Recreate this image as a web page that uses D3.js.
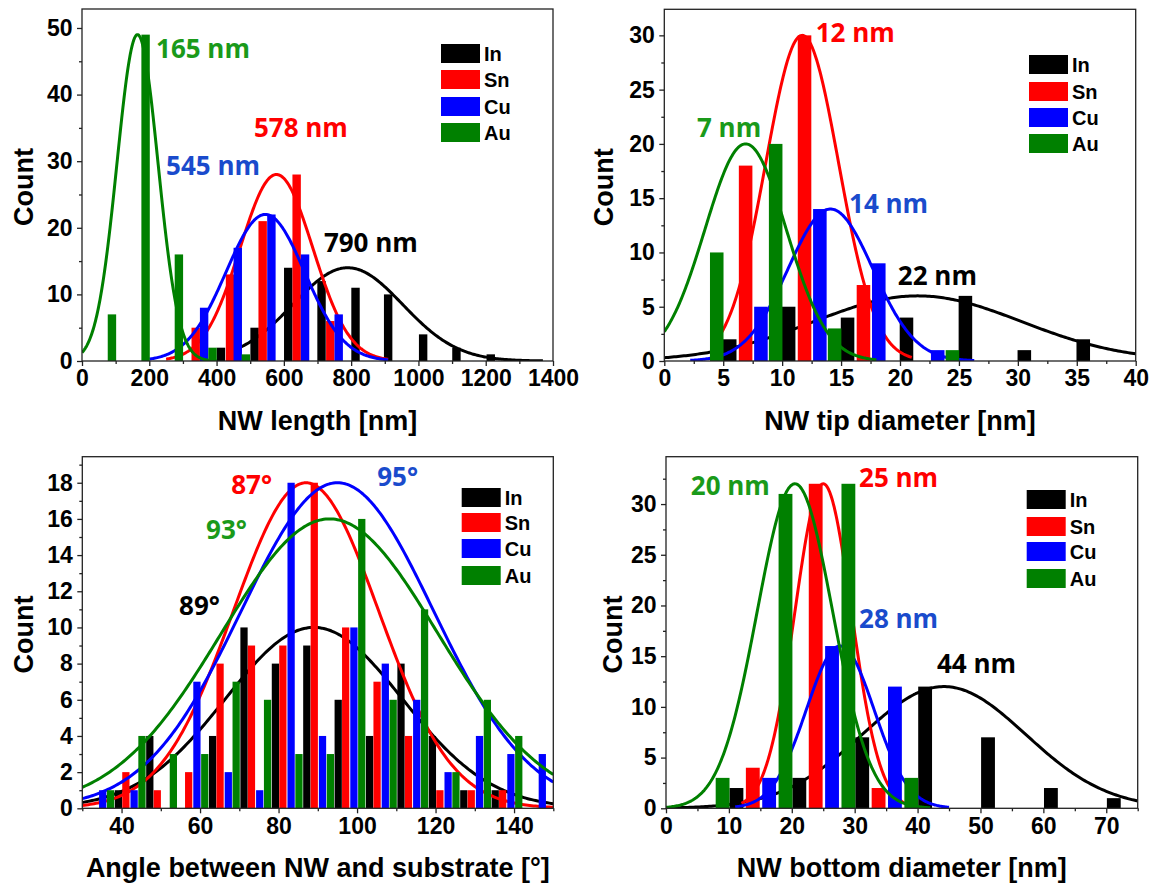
<!DOCTYPE html>
<html><head><meta charset="utf-8">
<script src="https://cdn.jsdelivr.net/npm/d3@7"></script>
<style>
body{margin:0;background:#fff;}
svg{display:block;}
text{font-family:"Liberation Sans",Arial,sans-serif;font-weight:bold;fill:#000;}
.ann{font-family:"Open Sans",Lato,sans-serif;font-weight:bold;font-size:26px;}
</style></head><body>
<svg id="c" width="1153" height="888"></svg>
<script>
// ---------- common ----------
const seriesNames = ["In","Sn","Cu","Au"];
const seriesColors = ["#000000","#ff0000","#0000ff","#008000"];
const labelColors = ["#000000","#ff0000","#1a4bcc","#1a9a1a"];

// ---------- Panel A: NW length ----------
const lenInX = [413,513,613,712,813,910,1014,1113,1215];
const lenInY = [2,5,14,12,11,10,4,2,1];
const lenSnX = [338,440,537,638,738];
const lenSnY = [5,13,21,28,6];
const lenCuX = [363,463,563,663,763];
const lenCuY = [8,17,22,16,7];
const lenAuX = [89,189,288,388,487];
const lenAuY = [7,49,16,2,1];
// gaussian fits: centre, width (sigma), peak, from, to  (order In, Sn, Cu, Au)
const lenFitCentre = [790,578,545,165];
const lenFitSigma = [163,108,117,61];
const lenFitPeak = [14,28,22,49];
const lenFitFrom = [450,250,200,0];
const lenFitTo = [1370,910,910,400];
const lenLabels = ["790 nm","578 nm","545 nm","165 nm"];
const lenLabelAt = [[722,16.4],[514,33.6],[253,27.9],[223,45.5]];
const lenXTicks = [0,200,400,600,800,1000,1200,1400];
const lenYTicks = [0,10,20,30,40,50];

// ---------- Panel B: NW tip diameter ----------
const tipInX = [5.55,10.55,15.55,20.55,25.55,30.55,35.55];
const tipInY = [2,5,4,4,6,1,2];
const tipSnX = [6.9,11.9,16.9];
const tipSnY = [18,30,7];
const tipCuX = [8.2,13.2,18.2,23.2];
const tipCuY = [5,14,9,1];
const tipAuX = [4.45,9.45,14.45,24.45];
const tipAuY = [10,20,3,1];
const tipFitCentre = [21.5,11.7,14.1,6.9];
const tipFitSigma = [8.8,3.1,3.6,3.45];
const tipFitPeak = [6,30,14,20];
const tipFitFrom = [0,4,2.2,0];
const tipFitTo = [40,21,26.3,18];
const tipLabels = ["22 nm","12 nm","14 nm","7 nm"];
const tipLabelAt = [[19.9,7.0],[12.93,29.4],[15.76,13.6],[2.86,20.6]];
const tipXTicks = [0,5,10,15,20,25,30,35,40];
const tipYTicks = [0,5,10,15,20,25,30];

// ---------- Panel C: angle ----------
const angInX = [39.2,47.2,63.2,71.2,79.2,87.2,95.2,103.2,111.2,119.2,127.2,135.2];
const angInY = [1,4,4,10,8,9,6,4,8,4,1,1];
const angSnX = [41.1,49.1,57.1,65.1,73.1,81.1,89.1,97.1,105.1,113.1,121.1,129.1,137.1];
const angSnY = [2,1,2,8,9,9,18,10,7,4,1,1,1];
const angCuX = [35.2,43.2,59.2,67.2,75.2,83.2,91.2,99.2,107.2,115.2,123.2,131.2,139.2,147.2];
const angCuY = [1,1,7,2,1,18,4,10,8,6,2,4,3,3];
const angAuX = [37.2,45.2,53.2,61.2,69.2,77.2,85.2,93.2,101.2,109.2,117.2,125.2,133.2,141.2];
const angAuY = [1,4,3,3,7,6,3,3,16,6,11,2,6,4];
const angFitCentre = [89,87,95,93];
const angFitSigma = [22.5,18.5,24.5,27.5];
const angFitPeak = [10,18,18,16];
const angFitFrom = [30,30,30,30];
const angFitTo = [150,150,150,150];
const angLabels = ["89°","87°","95°","93°"];
const angLabelAt = [[54.9,10.7],[68.2,17.4],[105.4,17.8],[61.8,14.9]];
const angXTicks = [40,60,80,100,120,140];
const angYTicks = [0,2,4,6,8,10,12,14,16,18];

// ---------- Panel D: NW bottom diameter ----------
const botInX = [11.2,21.2,31.2,41.2,51.2,61.2,71.2];
const botInY = [2,3,7,12,7,2,1];
const botSnX = [13.8,23.8,33.8];
const botSnY = [4,32,2];
const botCuX = [16.4,26.4,36.4];
const botCuY = [3,16,12];
const botAuX = [9,19,29,39];
const botAuY = [3,31,32,3];
const botFitCentre = [44.2,25,27.7,20.5];
const botFitSigma = [13,4.5,5.4,6];
const botFitPeak = [12,32,16,32];
const botFitFrom = [0,12,11,0];
const botFitTo = [75,38,45,42];
const botLabels = ["44 nm","25 nm","28 nm","20 nm"];
const botLabelAt = [[43.25,13.3],[30.85,31.7],[30.85,17.8],[4.1,30.9]];
const botXTicks = [0,10,20,30,40,50,60,70];
const botYTicks = [0,5,10,15,20,25,30];

// ---------- layout ----------
const panels = [
  {box:{l:82,r:553,t:9,b:361}, xDom:[0,1400], yDom:[0,52.85], xMinorStep:100, yMinorStep:5, barW:25,
   xs:[lenInX,lenSnX,lenCuX,lenAuX], ys:[lenInY,lenSnY,lenCuY,lenAuY],
   fc:lenFitCentre, fs:lenFitSigma, fp:lenFitPeak, ff:lenFitFrom, ft:lenFitTo,
   labels:lenLabels, labelAt:lenLabelAt, xt:lenXTicks, yt:lenYTicks,
   title:"NW length [nm]", countX:33, legX:441, legY:[44,70,97,123]},
  {box:{l:664.3,r:1135.7,t:9.3,b:361}, xDom:[0,40], yDom:[0,32.4], xMinorStep:2.5, yMinorStep:2.5, barW:1.15,
   xs:[tipInX,tipSnX,tipCuX,tipAuX], ys:[tipInY,tipSnY,tipCuY,tipAuY],
   fc:tipFitCentre, fs:tipFitSigma, fp:tipFitPeak, ff:tipFitFrom, ft:tipFitTo,
   labels:tipLabels, labelAt:tipLabelAt, xt:tipXTicks, yt:tipYTicks,
   title:"NW tip diameter [nm]", countX:613, legX:1029, legY:[55,82,108,134]},
  {box:{l:82.3,r:553.3,t:456.7,b:808.3}, xDom:[30,150], yDom:[0,19.44], xMinorStep:10, yMinorStep:1, barW:1.85,
   xs:[angInX,angSnX,angCuX,angAuX], ys:[angInY,angSnY,angCuY,angAuY],
   fc:angFitCentre, fs:angFitSigma, fp:angFitPeak, ff:angFitFrom, ft:angFitTo,
   labels:angLabels, labelAt:angLabelAt, xt:angXTicks, yt:angYTicks,
   title:"Angle between NW and substrate [°]", countX:33, legX:461.7, legY:[488,513,539,566]},
  {box:{l:666,r:1137.7,t:456.7,b:808.3}, xDom:[0,75], yDom:[0,34.67], xMinorStep:5, yMinorStep:2.5, barW:2.2,
   xs:[botInX,botSnX,botCuX,botAuX], ys:[botInY,botSnY,botCuY,botAuY],
   fc:botFitCentre, fs:botFitSigma, fp:botFitPeak, ff:botFitFrom, ft:botFitTo,
   labels:botLabels, labelAt:botLabelAt, xt:botXTicks, yt:botYTicks,
   title:"NW bottom diameter [nm]", countX:622, legX:1026.7, legY:[490,517,542,569]}
];

const svg = d3.select("#c");
svg.append("rect").attr("width",1153).attr("height",888).attr("fill","#fff");

function minorTicks(dom, step, major){
  const out = [];
  for (let v = Math.ceil(dom[0]/step)*step; v <= dom[1]+1e-9; v += step){
    if (!major.some(m => Math.abs(m-v) < 1e-9)) out.push(+v.toFixed(4));
  }
  return out;
}
const fmt = d3.format("d");

panels.forEach((p, pi) => {
  const x = d3.scaleLinear().domain(p.xDom).range([p.box.l, p.box.r]);
  const y = d3.scaleLinear().domain(p.yDom).range([p.box.b, p.box.t]);
  const g = svg.append("g");
  const clipId = "clip" + pi;
  svg.append("clipPath").attr("id", clipId).append("rect")
    .attr("x", p.box.l).attr("y", p.box.t)
    .attr("width", p.box.r - p.box.l).attr("height", p.box.b - p.box.t);
  const plot = g.append("g").attr("clip-path", `url(#${clipId})`);
  const bw = x(p.xDom[0] + p.barW) - x(p.xDom[0]);

  seriesNames.forEach((name, si) => {
    const bars = p.xs[si].map((v, j) => ({x: v, c: p.ys[si][j]}));
    plot.append("g").selectAll("rect").data(bars).join("rect")
      .attr("x", d => x(d.x) - bw/2)
      .attr("width", bw)
      .attr("y", d => y(d.c))
      .attr("height", d => y(0) - y(d.c))
      .attr("fill", seriesColors[si]);
    const mu = p.fc[si], s = p.fs[si], a = p.fp[si];
    const n = 240;
    const pts = d3.range(n + 1).map(k => {
      const v = p.ff[si] + (p.ft[si] - p.ff[si]) * k / n;
      return [v, a * Math.exp(-(v - mu) * (v - mu) / (2 * s * s))];
    });
    plot.append("path").datum(pts)
      .attr("d", d3.line().x(d => x(d[0])).y(d => y(d[1])))
      .attr("fill", "none").attr("stroke", seriesColors[si])
      .attr("stroke-width", 3).attr("stroke-linejoin", "round");
  });

  // axes
  const xAx = g.append("g").attr("transform", `translate(0,${p.box.b})`)
    .call(d3.axisBottom(x).tickValues(p.xt).tickFormat(fmt).tickSize(5).tickPadding(4));
  const xMin = g.append("g").attr("transform", `translate(0,${p.box.b})`)
    .call(d3.axisBottom(x).tickValues(minorTicks(p.xDom, p.xMinorStep, p.xt)).tickSize(3).tickFormat(""));
  const yAx = g.append("g").attr("transform", `translate(${p.box.l},0)`)
    .call(d3.axisLeft(y).tickValues(p.yt).tickFormat(fmt).tickSize(5).tickPadding(4.5));
  const yMin = g.append("g").attr("transform", `translate(${p.box.l},0)`)
    .call(d3.axisLeft(y).tickValues(minorTicks(p.yDom, p.yMinorStep, p.yt)).tickSize(3).tickFormat(""));
  [xAx, xMin, yAx, yMin].forEach(a => {
    a.select(".domain").remove();
    a.selectAll("line").attr("stroke", "#222").attr("stroke-width", 1.3);
    a.selectAll("text").attr("font-size", 23).attr("font-family", "Liberation Sans, Arial, sans-serif")
      .attr("font-weight", "bold").attr("fill", "#000");
  });

  // frame
  g.append("rect").attr("x", p.box.l).attr("y", p.box.t)
    .attr("width", p.box.r - p.box.l).attr("height", p.box.b - p.box.t)
    .attr("fill", "none").attr("stroke", "#222").attr("stroke-width", 1.3);

  // titles
  g.append("text").attr("x", (p.box.l + p.box.r) / 2).attr("y", p.box.b + 69)
    .attr("text-anchor", "middle").attr("font-size", 27).text(p.title);
  g.append("text").attr("transform", `translate(${p.countX},${(p.box.t + p.box.b) / 2 + 2}) rotate(-90)`)
    .attr("text-anchor", "middle").attr("font-size", 27).text("Count");

  // legend
  seriesNames.forEach((name, si) => {
    g.append("rect").attr("x", p.legX).attr("y", p.legY[si]).attr("width", 39).attr("height", 19)
      .attr("fill", seriesColors[si]);
    g.append("text").attr("x", p.legX + 43).attr("y", p.legY[si] + 16.5)
      .attr("font-size", 20).text(name);
  });

  // fit centre labels
  p.labels.forEach((t, si) => {
    g.append("text").attr("class", "ann")
      .attr("x", x(p.labelAt[si][0]) - 1).attr("y", y(p.labelAt[si][1]))
      .style("fill", labelColors[si]).text(t);
  });
});
</script>
</body></html>
